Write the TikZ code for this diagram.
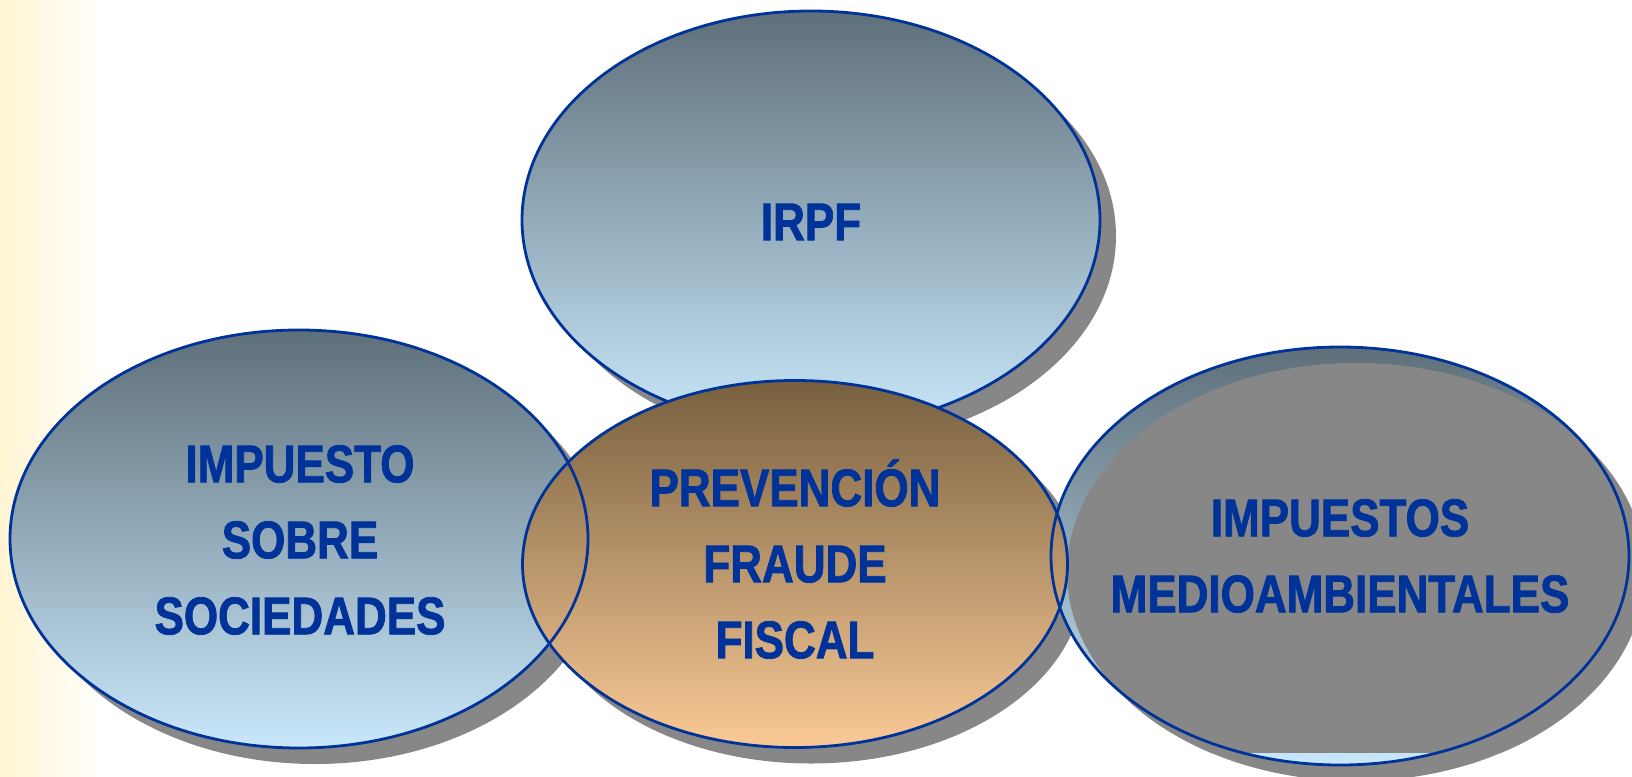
\documentclass[tikz,border=0pt]{standalone}
\usepackage{fontspec}
\setmainfont{Liberation Sans}[FakeStretch=0.83, BoldFeatures={FakeBold=1.5}]
\usetikzlibrary{shapes.geometric}
\definecolor{txtblue}{HTML}{003399}
\definecolor{shadowgray}{HTML}{878787}
\definecolor{slatetop}{HTML}{5E6F79}
\definecolor{skybot}{HTML}{C9E8FB}
\definecolor{browntop}{HTML}{77603F}
\definecolor{peachbot}{HTML}{FACA96}
\definecolor{paleyellow}{HTML}{FFF5D2}
\begin{document}
\begin{tikzpicture}[x=1pt,y=-1pt,
  bubble/.style={ellipse, inner sep=0pt, outer sep=0pt},
  bigbub/.style={bubble, minimum width=578pt, minimum height=418pt},
  midbub/.style={bubble, minimum width=545pt, minimum height=367pt},
  shadowfill/.style={fill=shadowgray},
  bluefill/.style={shade, top color=slatetop, bottom color=skybot},
  brownfill/.style={shade, top color=browntop, bottom color=peachbot},
  rim/.style={draw=txtblue, line width=2.8pt},
  lbl/.style={text=txtblue, font=\fontsize{53}{76}\selectfont\bfseries, align=center, inner sep=0pt}
]
\useasboundingbox (0,0) rectangle (1632,776);
\clip (0,0) rectangle (1632,776);
\fill[white] (0,0) rectangle (1632,776);
\shade[left color=paleyellow, right color=white] (0,0) rectangle (105,776);

% shadows
\node[bigbub, shadowfill] (irpfsh) at (827,236) {};
\node[bigbub, shadowfill] (socsh) at (315,555) {};
\node[bigbub, shadowfill] (medsh) at (1356,572) {};
\node[midbub, shadowfill] (prevsh) at (811,580) {};

% IRPF
\node[bigbub, bluefill] (irpf) at (811,220) {};
\node[bigbub, rim] (irpfrim) at (irpf.center) {};

% left
\node[bigbub, bluefill] (soc) at (299,539) {};

% right with grey overlay
\node[bigbub, bluefill] (med) at (1340,556) {};
\begin{scope}
  \clip (1000,0) rectangle (1632,752);
  \node[bigbub, shadowfill] (medover) at (1356,572) {};
\end{scope}

% centre
\node[midbub, brownfill] (prev) at (795,564) {};

% rims on top
\node[bigbub, rim] (socrim) at (soc.center) {};
\node[bigbub, rim] (medrim) at (med.center) {};
\node[midbub, rim] (prevrim) at (prev.center) {};

% labels
\node[lbl] (tirpf) at (811,222) {IRPF};
\node[lbl] (tsoc) at (300,540) {IMPUESTO\\SOBRE\\SOCIEDADES};
\node[lbl] (tprev) at (795,559) {PREVENCIÓN\\FRAUDE\\FISCAL};
\node[lbl] (tmed) at (1340,556) {IMPUESTOS\\MEDIOAMBIENTALES};
\end{tikzpicture}
\end{document}
